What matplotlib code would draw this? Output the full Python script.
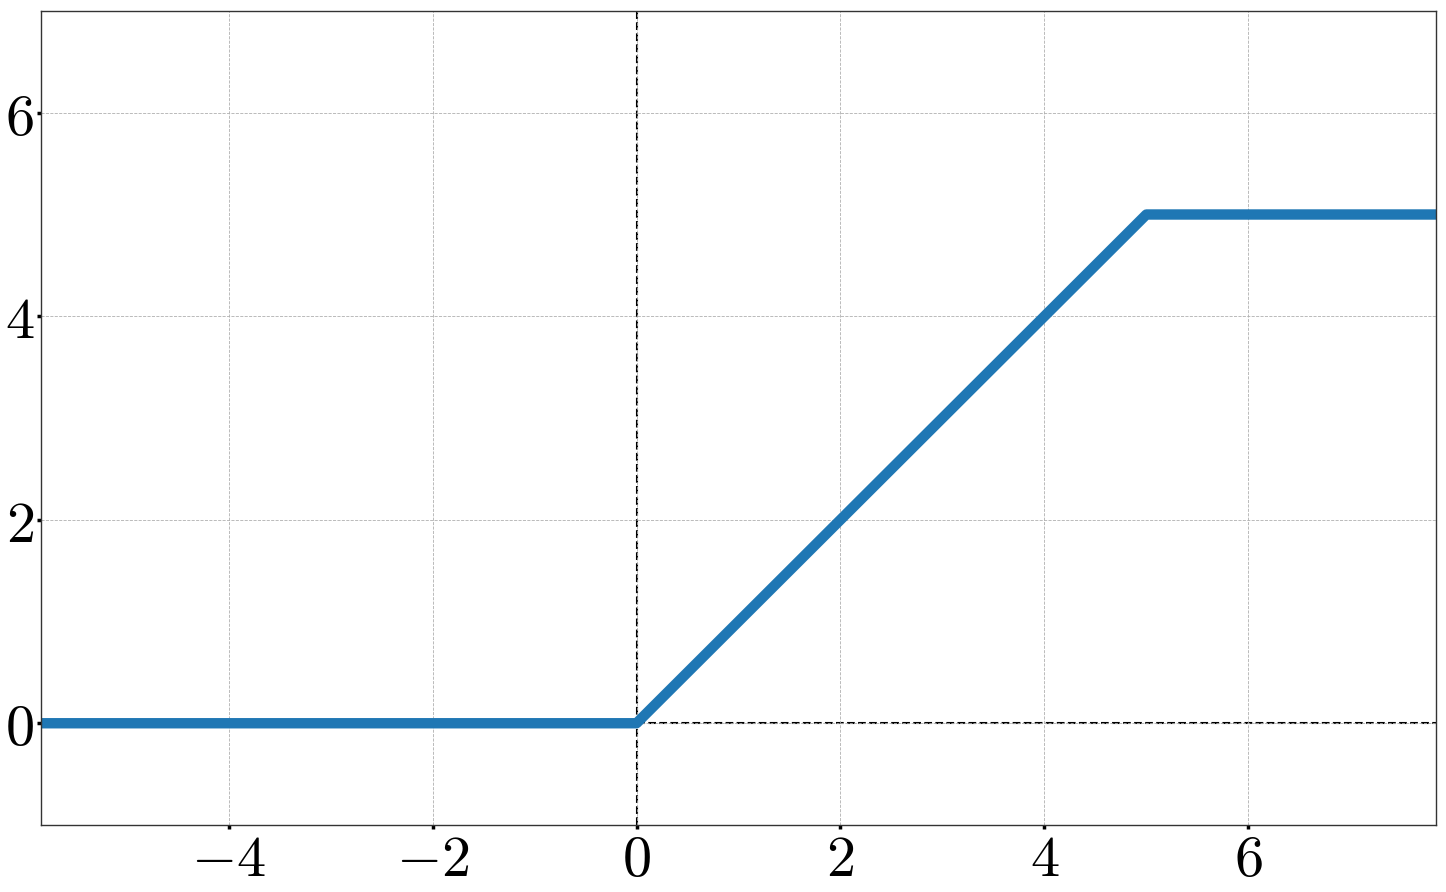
import numpy as np
import matplotlib
matplotlib.use("Agg")
import matplotlib.pyplot as plt

plt.rcParams['mathtext.fontset'] = 'cm'
plt.rcParams['font.family'] = 'serif'
plt.rcParams['font.serif'] = ['DejaVu Serif']

# clipped linear activation (ReLU6-style, capped at 5)
x_knots = [-5.84, 0.0, 5.0, 7.84]
y_knots = [0.0, 0.0, 5.0, 5.0]
x_ticks = [-4, -2, 0, 2, 4, 6]
y_ticks = [0, 2, 4, 6]

fig = plt.figure(figsize=(14.46, 8.92), dpi=100)
ax = fig.add_axes([41 / 1446, 1 - 825 / 892, 1395 / 1446, 814 / 892])

ax.grid(True, linestyle='--', linewidth=0.6, color='#b0b0b0', zorder=0)
ax.axvline(0, color='black', linestyle='--', linewidth=1.5, zorder=1)
ax.axhline(0, color='black', linestyle='--', linewidth=1.5, zorder=1)
ax.plot(x_knots, y_knots, color='#1f77b4', linewidth=7.5, zorder=2)

ax.set_xlim(-5.84, 7.84)
ax.set_ylim(-1, 7)
ax.set_xticks(x_ticks)
ax.set_yticks(y_ticks)
ax.set_xticklabels([r'$%d$' % t for t in x_ticks], fontsize=42)
ax.set_yticklabels([r'$%d$' % t for t in y_ticks], fontsize=42)
ax.tick_params(length=3, width=2.5, pad=2)
for s in ax.spines.values():
    s.set_color('#333333')
    s.set_linewidth(1.0)

fig.savefig('out.png', dpi=100)
